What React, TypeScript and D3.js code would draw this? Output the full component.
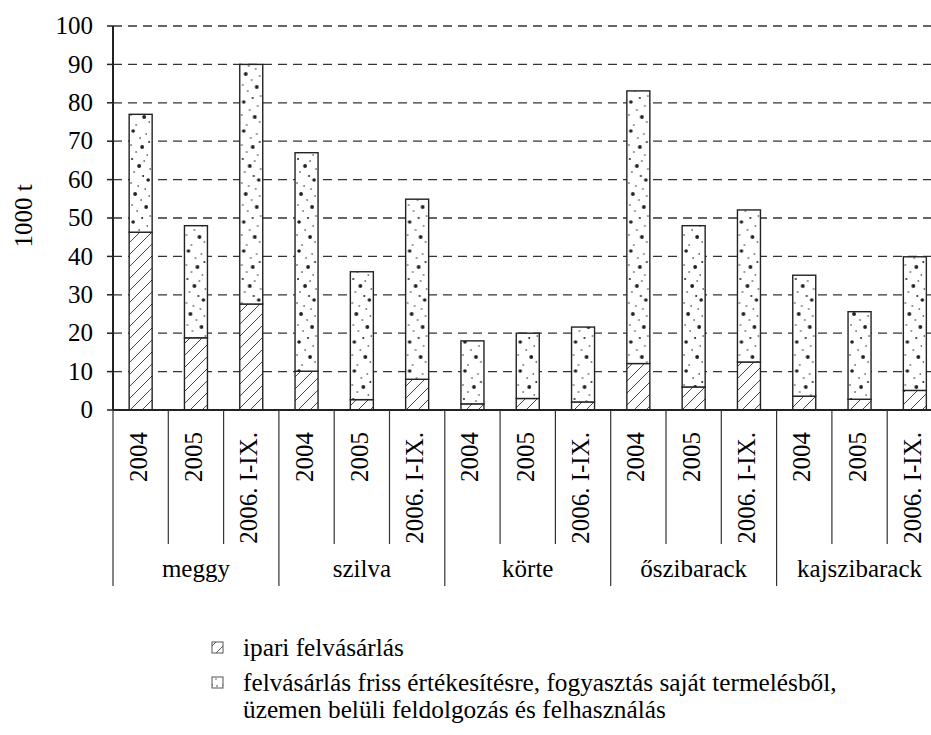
import React from "react";
import * as d3 from "d3";

const WIDTH = 931;
const HEIGHT = 735;
const MARGIN = { top: 26, left: 113, bottom: 410 };

// data
const fruits = ["meggy", "szilva", "körte", "őszibarack", "kajszibarack"];
const periods = ["2004", "2005", "2006. I-IX."];
const ipari = [46.3, 18.8, 27.6, 10.1, 2.7, 8, 1.6, 3, 2.1, 12.1, 6, 12.5, 3.6, 2.8, 5.1];
const friss = [30.7, 29.2, 62.4, 56.9, 33.3, 46.9, 16.4, 17, 19.5, 71, 42, 39.6, 31.5, 22.8, 34.8];
const yTicks = [0, 10, 20, 30, 40, 50, 60, 70, 80, 90, 100];
const legendItems = [
  { key: "ipari", lines: ["ipari felvásárlás"] },
  {
    key: "friss",
    lines: [
      "felvásárlás friss értékesítésre, fogyasztás saját termelésből,",
      "üzemen belüli feldolgozás és felhasználás",
    ],
  },
];

const FONT = "Liberation Serif, Times New Roman, Times, serif";
const FS = 25;
const STEP = 55.3;
const BAR_W = 23;

// stipple tile: dot offsets inside a bar (x from bar left, y, r)
const dotTile = [
  [4, 3, 1.8], [17, 6, 0.8], [11, 10, 0.8], [20, 14, 1.0], [2, 17, 0.8],
  [13, 19, 1.9], [7, 24, 0.8], [18, 27, 0.8], [3, 31, 1.0], [15, 33, 0.8],
  [10, 38, 1.9], [21, 41, 0.8], [5, 44, 0.8], [14, 48, 1.0], [19, 52, 1.8],
  [2, 55, 0.8], [9, 58, 0.8], [16, 61, 0.8], [6, 66, 1.9], [20, 68, 0.8],
  [12, 72, 0.8], [3, 77, 0.8], [17, 79, 1.9], [8, 83, 0.8], [21, 88, 0.8],
  [13, 90, 1.0], [4, 94, 1.8], [18, 98, 0.8], [10, 102, 0.8], [2, 107, 0.8],
  [15, 109, 1.9], [20, 114, 0.8], [7, 117, 0.8],
];

const App = () => {
  const rows = ipari.map((v, i) => ({
    x: String(i),
    ipari: v,
    friss: friss[i],
  }));
  const series = d3.stack().keys(["ipari", "friss"])(rows as any);

  const xScale = d3
    .scaleBand()
    .domain(rows.map((d) => d.x))
    .range([MARGIN.left, MARGIN.left + 15 * STEP])
    .padding(0);
  const step = xScale.bandwidth();
  const barOff = (step - BAR_W) / 2;

  const yScale = d3.scaleLinear().domain([0, 100]).range([MARGIN.bottom, MARGIN.top]);

  const fillFor = (key) => (key === "ipari" ? "url(#hatch)" : "url(#dots)");

  return (
    <svg
      width={WIDTH}
      height={HEIGHT}
      style={{ position: "absolute", left: 0, top: 0, background: "#fff", fontFamily: FONT }}
    >
      <defs>
        <pattern id="hatch" patternUnits="userSpaceOnUse" width={12} height={12}>
          <rect width={12} height={12} fill="#fff" />
          <path d="M-3,3 L3,-3 M0,12 L12,0 M9,15 L15,9" stroke="#333" strokeWidth={0.9} />
        </pattern>
        <pattern
          id="dots"
          patternUnits="userSpaceOnUse"
          width={step}
          height={120}
          x={MARGIN.left + barOff}
          y={8}
        >
          <rect width={step} height={120} fill="#fff" />
          {dotTile.map(([cx, cy, r], i) => (
            <circle key={i} cx={cx} cy={cy} r={r} fill="#222" />
          ))}
        </pattern>
        <pattern id="hatchLeg" patternUnits="userSpaceOnUse" width={11} height={11}>
          <rect width={11} height={11} fill="#fff" />
          <path d="M0,11 L11,0" stroke="#444" strokeWidth={0.9} />
        </pattern>
        <pattern id="dotsLeg" patternUnits="userSpaceOnUse" width={11} height={11}>
          <rect width={11} height={11} fill="#fff" />
          <circle cx={3} cy={3} r={0.8} fill="#333" />
          <circle cx={8} cy={4} r={0.8} fill="#333" />
          <circle cx={7} cy={8} r={0.7} fill="#333" />
        </pattern>
      </defs>

      {/* gridlines */}
      {yTicks.slice(1).map((t) => (
        <line
          key={t}
          x1={MARGIN.left}
          x2={WIDTH}
          y1={yScale(t)}
          y2={yScale(t)}
          stroke="#333"
          strokeWidth={1.3}
          strokeDasharray="9,6"
        />
      ))}

      {/* bars */}
      {series.map((s) => (
        <g key={s.key}>
          {s.map((d, j) => (
            <rect
              key={j}
              x={xScale(String(j)) + barOff}
              y={yScale(d[1])}
              width={BAR_W}
              height={yScale(d[0]) - yScale(d[1])}
              fill={fillFor(s.key)}
              stroke="#222"
              strokeWidth={1.4}
            />
          ))}
        </g>
      ))}

      {/* y axis */}
      <line x1={MARGIN.left} x2={MARGIN.left} y1={MARGIN.top} y2={MARGIN.bottom} stroke="#222" strokeWidth={2} />
      {yTicks.map((t) => (
        <g key={t}>
          <line x1={MARGIN.left - 6} x2={MARGIN.left} y1={yScale(t)} y2={yScale(t)} stroke="#222" strokeWidth={1.5} />
          <text x={93} y={yScale(t)} dy="0.33em" textAnchor="end" fontSize={FS}>
            {t}
          </text>
        </g>
      ))}
      <text transform={`translate(32,216) rotate(-90)`} textAnchor="middle" fontSize={FS}>
        1000 t
      </text>

      {/* x axis */}
      <line x1={MARGIN.left} x2={WIDTH} y1={MARGIN.bottom} y2={MARGIN.bottom} stroke="#222" strokeWidth={2} />
      {d3.range(16).map((i) => {
        const x = MARGIN.left + i * step;
        const isGroup = i % 3 === 0;
        return (
          <line
            key={i}
            x1={x}
            x2={x}
            y1={MARGIN.bottom}
            y2={isGroup ? 586 : 544}
            stroke="#333"
            strokeWidth={1.2}
          />
        );
      })}
      {rows.map((d, i) => {
        const cx = xScale(d.x) + step / 2 + 6;
        return (
          <text
            key={i}
            transform={`translate(${cx},432) rotate(-90)`}
            textAnchor="end"
            fontSize={FS}
          >
            {periods[i % 3]}
          </text>
        );
      })}
      {fruits.map((f, g) => (
        <text
          key={f}
          x={MARGIN.left + (g * 3 + 1.5) * step}
          y={577}
          textAnchor="middle"
          fontSize={FS}
        >
          {f}
        </text>
      ))}

      {/* legend */}
      {legendItems.map((item, i) => {
        const top = i === 0 ? 642 : 677;
        return (
          <g key={item.key}>
            <rect
              x={212}
              y={top}
              width={11}
              height={11}
              fill={item.key === "ipari" ? "url(#hatchLeg)" : "url(#dotsLeg)"}
              stroke="#555"
              strokeWidth={1}
            />
            {item.lines.map((ln, k) => (
              <text key={k} x={243} y={top + 14 + k * 27} fontSize={25.3}>
                {ln}
              </text>
            ))}
          </g>
        );
      })}
    </svg>
  );
};

export default App;
